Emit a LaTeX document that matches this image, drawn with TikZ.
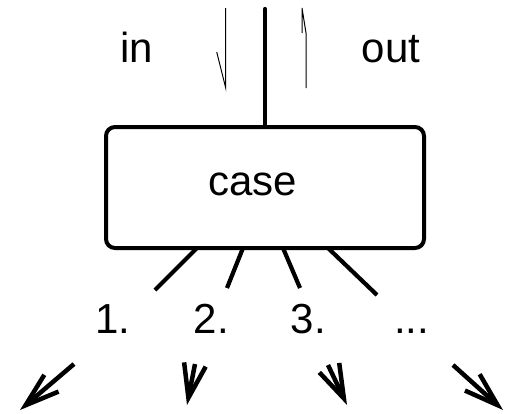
\documentclass[tikz,border=0pt]{standalone}
\usepackage{fontspec}
\setmainfont{Liberation Sans}
\usetikzlibrary{arrows.meta}

\tikzset{
  lbl/.style={inner sep=0pt, font=\fontsize{42}{50}\selectfont},
  casebox/.style={draw, line width=4pt, rounded corners=9pt,
    minimum width=318pt, minimum height=121pt, inner sep=0pt},
  heavy/.style={line width=4.2pt},
  flowline/.style={line width=1pt},
  branch/.style={line width=4.5pt, -{Straight Barb[length=34pt,width=22pt]}}
}

\begin{document}
\begin{tikzpicture}[x=1pt, y=-1pt]
  \useasboundingbox (0,0) rectangle (505,413);

  % the case block
  \node[casebox] (case) at (265,187.5) {};
  \node[lbl, anchor=base] (caselbl) at (253,195) {case};

  % trunk going up
  \coordinate (top) at (265,9);
  \draw[heavy, line cap=round] (case.north) -- (top);

  % in / out flow markers
  \node[lbl, anchor=base] (inlbl) at (137,62) {in};
  \node[lbl, anchor=base] (outlbl) at (391,62) {out};

  \coordinate (inA) at (225.7,8);
  \coordinate (inB) at (225.7,88);
  \coordinate (inC) at (216.7,52);
  \draw[flowline] (inA) -- (inB) -- (inC);

  \coordinate (outA) at (306,88);
  \coordinate (outB) at (306,33);
  \coordinate (outC) at (302,8);
  \coordinate (outD) at (302,33);
  \draw[flowline] (outA) -- (outB) -- (outC) -- (outD);

  % branch stubs under the block
  \coordinate (s1) at (197,248);
  \coordinate (s2) at (243,248);
  \coordinate (s3) at (283,248);
  \coordinate (s4) at (328,248);
  \coordinate (e1) at (155,290);
  \coordinate (e2) at (227,288);
  \coordinate (e3) at (300,288);
  \coordinate (e4) at (377,295);
  \draw[heavy] (s1) -- (e1);
  \draw[heavy] (s2) -- (e2);
  \draw[heavy] (s3) -- (e3);
  \draw[heavy] (s4) -- (e4);

  % branch labels
  \node[lbl, anchor=base] (b1) at (113,333) {1.};
  \node[lbl, anchor=base] (b2) at (211.5,333) {2.};
  \node[lbl, anchor=base] (b3) at (308.5,333) {3.};
  \node[lbl, anchor=base] (b4) at (411.5,333) {...};

  % outgoing arrows
  \coordinate (p1) at (74,364);
  \coordinate (q1) at (20,410);
  \coordinate (p2) at (195,364);
  \coordinate (q2) at (187,405);
  \coordinate (p3) at (328,365);
  \coordinate (q3) at (347,405);
  \coordinate (p4) at (453,365);
  \coordinate (q4) at (503,410);
  \draw[branch] (p1) -- (q1);
  \draw[branch] (p2) -- (q2);
  \draw[branch] (p3) -- (q3);
  \draw[branch] (p4) -- (q4);
\end{tikzpicture}
\end{document}
